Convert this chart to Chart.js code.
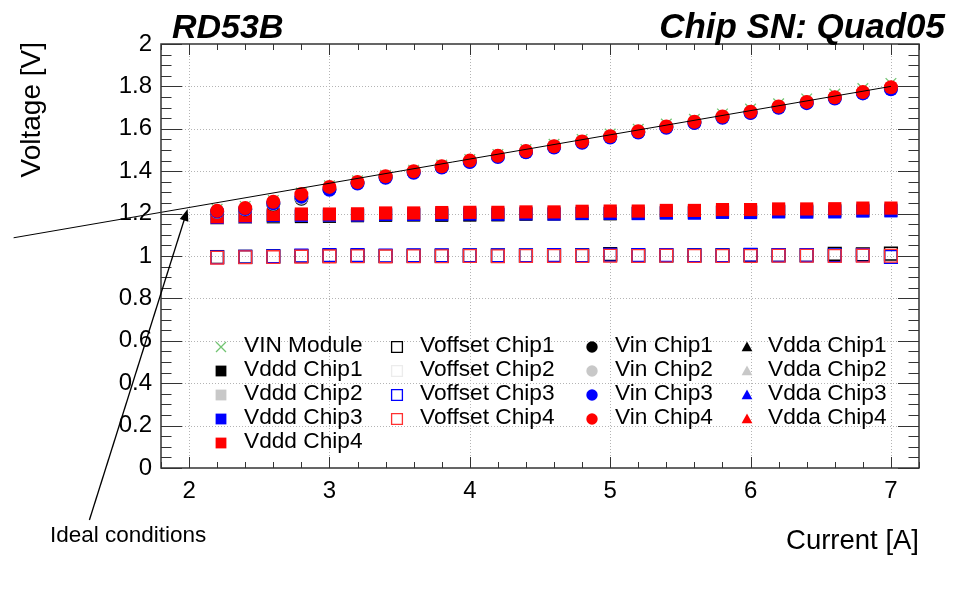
<!DOCTYPE html>
<html>
<head>
<meta charset="utf-8">
<script src="https://cdn.jsdelivr.net/npm/chart.js@4.4.1/dist/chart.umd.min.js"></script>
<style>
html, body { margin: 0; padding: 0; background: #fff; }
#wrap { width: 959px; height: 591px; }
</style>
</head>
<body>
<div id="wrap"><canvas id="ivChart" width="959" height="591"></canvas></div>
<script>
// current steps [A]
var current = [2.2, 2.4, 2.6, 2.8, 3.0, 3.2, 3.4, 3.6, 3.8, 4.0, 4.2, 4.4, 4.6, 4.8, 5.0, 5.2, 5.4, 5.6, 5.8, 6.0, 6.2, 6.4, 6.6, 6.8, 7.0];

var vinModule = [1.220, 1.234, 1.262, 1.297, 1.331, 1.355, 1.381, 1.405, 1.429, 1.455, 1.479, 1.502, 1.527, 1.550, 1.575, 1.598, 1.622, 1.645, 1.670, 1.693, 1.718, 1.741, 1.764, 1.790, 1.814];

var vinChip1 = [1.208, 1.219, 1.244, 1.270, 1.316, 1.345, 1.372, 1.396, 1.420, 1.446, 1.470, 1.492, 1.515, 1.537, 1.562, 1.585, 1.608, 1.630, 1.655, 1.677, 1.702, 1.724, 1.746, 1.770, 1.791];
var vinChip2 = [1.209, 1.220, 1.246, 1.275, 1.317, 1.346, 1.373, 1.397, 1.421, 1.447, 1.471, 1.493, 1.516, 1.538, 1.563, 1.586, 1.609, 1.631, 1.656, 1.678, 1.703, 1.725, 1.747, 1.771, 1.792];
var vinChip3 = [1.210, 1.222, 1.249, 1.280, 1.312, 1.342, 1.369, 1.393, 1.417, 1.443, 1.467, 1.489, 1.512, 1.534, 1.559, 1.582, 1.605, 1.627, 1.652, 1.674, 1.699, 1.721, 1.743, 1.767, 1.786];
var vinChip4 = [1.213, 1.226, 1.256, 1.292, 1.326, 1.349, 1.376, 1.400, 1.423, 1.450, 1.473, 1.495, 1.518, 1.540, 1.565, 1.588, 1.611, 1.633, 1.658, 1.680, 1.705, 1.727, 1.749, 1.773, 1.796];

var vdddChip1 = [1.180, 1.182, 1.185, 1.186, 1.187, 1.190, 1.192, 1.193, 1.192, 1.193, 1.194, 1.197, 1.198, 1.200, 1.199, 1.202, 1.204, 1.206, 1.208, 1.209, 1.211, 1.212, 1.214, 1.216, 1.217];
var vdddChip2 = [1.178, 1.183, 1.190, 1.192, 1.194, 1.195, 1.198, 1.199, 1.200, 1.201, 1.201, 1.203, 1.203, 1.206, 1.207, 1.207, 1.210, 1.210, 1.213, 1.213, 1.216, 1.216, 1.217, 1.220, 1.220];
var vdddChip3 = [1.182, 1.186, 1.191, 1.192, 1.193, 1.193, 1.196, 1.196, 1.197, 1.198, 1.197, 1.199, 1.198, 1.201, 1.201, 1.200, 1.203, 1.202, 1.206, 1.205, 1.208, 1.207, 1.208, 1.212, 1.213];
var vdddChip4 = [1.185, 1.190, 1.196, 1.198, 1.198, 1.199, 1.203, 1.203, 1.205, 1.206, 1.206, 1.208, 1.208, 1.211, 1.212, 1.212, 1.215, 1.215, 1.219, 1.219, 1.222, 1.222, 1.223, 1.226, 1.226];

var vddaChip1 = [1.184, 1.189, 1.194, 1.197, 1.197, 1.198, 1.201, 1.202, 1.204, 1.205, 1.205, 1.207, 1.207, 1.210, 1.211, 1.211, 1.214, 1.214, 1.218, 1.218, 1.221, 1.221, 1.222, 1.225, 1.225];
var vddaChip2 = [1.185, 1.189, 1.195, 1.197, 1.198, 1.198, 1.202, 1.202, 1.204, 1.205, 1.206, 1.207, 1.208, 1.210, 1.211, 1.212, 1.214, 1.215, 1.218, 1.219, 1.221, 1.222, 1.222, 1.225, 1.226];
var vddaChip3 = [1.184, 1.190, 1.195, 1.198, 1.197, 1.199, 1.202, 1.203, 1.204, 1.206, 1.205, 1.208, 1.207, 1.211, 1.211, 1.212, 1.214, 1.215, 1.218, 1.219, 1.221, 1.222, 1.222, 1.226, 1.225];
var vddaChip4 = [1.185, 1.190, 1.196, 1.197, 1.198, 1.199, 1.202, 1.203, 1.205, 1.205, 1.206, 1.208, 1.208, 1.210, 1.212, 1.212, 1.215, 1.215, 1.219, 1.219, 1.222, 1.222, 1.223, 1.226, 1.226];

var voffsetChip1 = [0.995, 0.996, 0.998, 1.000, 1.001, 1.001, 1.000, 1.001, 1.001, 1.002, 1.002, 1.002, 1.003, 1.003, 1.009, 1.002, 1.003, 1.003, 1.003, 1.004, 1.004, 1.004, 1.010, 1.008, 1.011];
var voffsetChip2 = [0.996, 0.997, 0.999, 1.000, 1.001, 1.001, 1.001, 1.001, 1.002, 1.002, 1.002, 1.002, 1.002, 1.003, 1.003, 1.003, 1.003, 1.003, 1.003, 1.004, 1.004, 1.004, 1.004, 1.004, 1.005];
var voffsetChip3 = [0.994, 0.996, 0.999, 1.002, 1.004, 1.004, 1.002, 1.003, 1.003, 1.003, 1.003, 1.003, 1.004, 1.003, 1.006, 1.004, 1.004, 1.003, 1.003, 1.006, 1.004, 1.004, 1.003, 1.004, 0.996];
var voffsetChip4 = [0.992, 0.994, 0.995, 0.997, 0.998, 0.999, 0.998, 0.999, 0.999, 1.000, 0.999, 1.000, 1.000, 1.000, 1.001, 1.000, 1.001, 1.000, 1.000, 1.000, 1.001, 1.001, 1.000, 1.002, 1.001];

// ideal conditions line (end points)
var idealCurrent = [0.75, 7.0];
var idealVoltage = [1.086, 1.800];

// arrow from label to the ideal line, in axis units
var arrowCurrent = [1.29, 1.99];
var arrowVoltage = [-0.245, 1.222];

var xTicks = [2, 3, 4, 5, 6, 7];
var yTicks = [0, 0.2, 0.4, 0.6, 0.8, 1, 1.2, 1.4, 1.6, 1.8, 2];

var FONT = "'Liberation Sans', Arial, sans-serif";
var black = "#000000", grey = "#c8c8c8", blue = "#0000ff", red = "#ff0000", green = "#72c472";

function pts(ys) {
    return current.map(function (x, i) { return { x: x, y: ys[i] }; });
}

function series(label, ys, style, color, order) {
    var ds = {
        label: label,
        data: pts(ys),
        order: order,
        pointStyle: style,
        pointBorderColor: color,
        pointBackgroundColor: color,
        borderColor: color,
        backgroundColor: color
    };
    if (style === "rect") { ds.pointRadius = 9.3; ds.pointBorderWidth = 0; }
    if (style === "rectOpen") {
        ds.pointStyle = "rect"; ds.pointRadius = 9; ds.pointBorderWidth = 1.4;
        ds.pointBackgroundColor = "rgba(0,0,0,0)";
    }
    if (style === "circle") { ds.pointRadius = 7; ds.pointBorderWidth = 0; }
    if (style === "triangle") { ds.pointRadius = 5; ds.pointBorderWidth = 0; }
    if (style === "crossRot") { ds.pointRadius = 7.5; ds.pointBorderWidth = 1.3; }
    return ds;
}

var datasets = [
    {
        label: "ideal",
        type: "line",
        data: idealCurrent.map(function (x, i) { return { x: x, y: idealVoltage[i] }; }),
        showLine: true,
        borderColor: "#000",
        borderWidth: 1,
        pointRadius: 0,
        clip: false,
        order: 0
    },
    series("VIN Module", vinModule, "crossRot", green, 5),
    series("Vddd Chip1", vdddChip1, "rect", black, 9),
    series("Vddd Chip2", vdddChip2, "rect", grey, 8),
    series("Vddd Chip3", vdddChip3, "rect", blue, 7),
    series("Vddd Chip4", vdddChip4, "rect", red, 6),
    series("Voffset Chip1", voffsetChip1, "rectOpen", black, 16),
    series("Voffset Chip2", voffsetChip2, "rectOpen", "#ececec", 17),
    series("Voffset Chip3", voffsetChip3, "rectOpen", blue, 15),
    series("Voffset Chip4", voffsetChip4, "rectOpen", "#ff3030", 14),
    series("Vin Chip1", vinChip1, "circle", black, 4),
    series("Vin Chip2", vinChip2, "circle", grey, 3),
    series("Vin Chip3", vinChip3, "circle", blue, 2),
    series("Vin Chip4", vinChip4, "circle", red, 1),
    series("Vdda Chip1", vddaChip1, "triangle", black, 13),
    series("Vdda Chip2", vddaChip2, "triangle", grey, 12),
    series("Vdda Chip3", vddaChip3, "triangle", blue, 11),
    series("Vdda Chip4", vddaChip4, "triangle", red, 10)
];

// legend columns as in the ROOT TLegend
var legendColumns = [
    ["VIN Module", "Vddd Chip1", "Vddd Chip2", "Vddd Chip3", "Vddd Chip4"],
    ["Voffset Chip1", "Voffset Chip2", "Voffset Chip3", "Voffset Chip4"],
    ["Vin Chip1", "Vin Chip2", "Vin Chip3", "Vin Chip4"],
    ["Vdda Chip1", "Vdda Chip2", "Vdda Chip3", "Vdda Chip4"]
];

function drawMarker(ctx, style, open, color, x, y, r) {
    ctx.save();
    ctx.fillStyle = color;
    ctx.strokeStyle = color;
    ctx.lineWidth = 1.3;
    ctx.beginPath();
    if (style === "rect") {
        ctx.rect(x - r, y - r, 2 * r, 2 * r);
        if (open) ctx.stroke(); else ctx.fill();
    } else if (style === "circle") {
        ctx.arc(x, y, r, 0, Math.PI * 2);
        ctx.fill();
    } else if (style === "triangle") {
        ctx.moveTo(x, y - r);
        ctx.lineTo(x + r, y + r * 0.8);
        ctx.lineTo(x - r, y + r * 0.8);
        ctx.closePath();
        ctx.fill();
    } else if (style === "crossRot") {
        ctx.moveTo(x - r, y - r); ctx.lineTo(x + r, y + r);
        ctx.moveTo(x + r, y - r); ctx.lineTo(x - r, y + r);
        ctx.stroke();
    }
    ctx.restore();
}

var rootFrame = {
    id: "rootFrame",
    beforeDatasetsDraw: function (chart) {
        var ctx = chart.ctx, a = chart.chartArea;
        var xs = chart.scales.x, ys = chart.scales.y;
        ctx.save();
        // dotted grid at major ticks
        ctx.strokeStyle = "#b4b4b4";
        ctx.lineWidth = 1;
        ctx.setLineDash([1, 2]);
        xTicks.forEach(function (v) {
            var px = Math.round(xs.getPixelForValue(v)) + 0.5;
            ctx.beginPath(); ctx.moveTo(px, a.top); ctx.lineTo(px, a.bottom); ctx.stroke();
        });
        yTicks.forEach(function (v) {
            if (v <= ys.min || v >= ys.max) return;
            var py = Math.round(ys.getPixelForValue(v)) + 0.5;
            ctx.beginPath(); ctx.moveTo(a.left, py); ctx.lineTo(a.right, py); ctx.stroke();
        });
        ctx.restore();
    },
    afterDatasetsDraw: function (chart) {
        var ctx = chart.ctx, a = chart.chartArea;
        var xs = chart.scales.x, ys = chart.scales.y;
        ctx.save();
        ctx.strokeStyle = "#333";
        ctx.lineWidth = 1;
        var i, v, px, py, len;
        // x ticks every 0.2, major at integers
        for (i = 0; ; i++) {
            v = Math.round((xs.min + i * 0.2) * 10) / 10;
            if (v > xs.max + 1e-6) break;
            len = Math.abs(v - Math.round(v)) < 1e-6 ? 11 : 6;
            px = Math.round(xs.getPixelForValue(v)) + 0.5;
            ctx.beginPath();
            ctx.moveTo(px, a.bottom); ctx.lineTo(px, a.bottom - len);
            ctx.moveTo(px, a.top); ctx.lineTo(px, a.top + len);
            ctx.stroke();
        }
        // y ticks every 0.05, major every 0.2
        for (i = 0; ; i++) {
            v = Math.round((ys.min + i * 0.05) * 100) / 100;
            if (v > ys.max + 1e-6) break;
            len = Math.abs(v * 5 - Math.round(v * 5)) < 1e-6 ? 21 : 10.5;
            py = Math.round(ys.getPixelForValue(v)) + 0.5;
            ctx.beginPath();
            ctx.moveTo(a.left, py); ctx.lineTo(a.left + len, py);
            ctx.moveTo(a.right, py); ctx.lineTo(a.right - len, py);
            ctx.stroke();
        }
        // frame
        ctx.lineWidth = 1.5;
        ctx.strokeRect(a.left, a.top, a.right - a.left, a.bottom - a.top);
        ctx.restore();
    },
    afterDraw: function (chart) {
        var ctx = chart.ctx, a = chart.chartArea;
        var xs = chart.scales.x, ys = chart.scales.y;
        ctx.save();
        ctx.fillStyle = "#000";
        ctx.textBaseline = "alphabetic";

        // titles
        ctx.font = "italic bold 34px " + FONT;
        ctx.textAlign = "left";
        ctx.fillText("RD53B", 172, 38);
        ctx.font = "italic bold 35px " + FONT;
        ctx.textAlign = "right";
        ctx.fillText("Chip SN: Quad05", 945, 38);

        // axis titles
        ctx.font = "27.5px " + FONT;
        ctx.textAlign = "right";
        ctx.fillText("Current [A]", a.right, 549);
        ctx.font = "28px " + FONT;
        ctx.save();
        ctx.translate(40, a.top - 2);
        ctx.rotate(-Math.PI / 2);
        ctx.textAlign = "right";
        ctx.fillText("Voltage [V]", 0, 0);
        ctx.restore();

        // ideal conditions arrow
        var x0 = xs.getPixelForValue(arrowCurrent[0]), y0 = ys.getPixelForValue(arrowVoltage[0]);
        var x1 = xs.getPixelForValue(arrowCurrent[1]), y1 = ys.getPixelForValue(arrowVoltage[1]);
        var ang = Math.atan2(y1 - y0, x1 - x0);
        ctx.strokeStyle = "#000";
        ctx.lineWidth = 1.3;
        ctx.beginPath(); ctx.moveTo(x0, y0); ctx.lineTo(x1 - 8 * Math.cos(ang), y1 - 8 * Math.sin(ang)); ctx.stroke();
        ctx.beginPath();
        ctx.moveTo(x1, y1);
        ctx.lineTo(x1 - 12 * Math.cos(ang) + 4.5 * Math.sin(ang), y1 - 12 * Math.sin(ang) - 4.5 * Math.cos(ang));
        ctx.lineTo(x1 - 12 * Math.cos(ang) - 4.5 * Math.sin(ang), y1 - 12 * Math.sin(ang) + 4.5 * Math.cos(ang));
        ctx.closePath();
        ctx.fill();
        ctx.font = "22.5px " + FONT;
        ctx.textAlign = "left";
        ctx.fillText("Ideal conditions", 50, 542);

        // legend
        var colMarker = [221, 397, 592, 747], colText = [244, 420, 615, 768];
        var rowY = [346, 370, 394, 418, 442];
        ctx.font = "22.7px " + FONT;
        ctx.textBaseline = "middle";
        legendColumns.forEach(function (col, c) {
            col.forEach(function (label, r) {
                var ds = chart.data.datasets.find(function (d) { return d.label === label; });
                var open = ds.pointBackgroundColor === "rgba(0,0,0,0)";
                var style = ds.pointStyle;
                var size = style === "circle" ? 5.7 : (style === "crossRot" ? 5 : 5.4);
                drawMarker(ctx, style, open, ds.pointBorderColor, colMarker[c], rowY[r] + 1, size);
                ctx.fillStyle = "#000";
                ctx.fillText(label, colText[c], rowY[r]);
            });
        });
        ctx.restore();
    }
};

var ctx = document.getElementById("ivChart").getContext("2d");

var myChart = new Chart(ctx, {
    type: "scatter",
    data: { datasets: datasets },
    options: {
        responsive: false,
        animation: false,
        events: [],
        layout: { padding: { left: 41, right: 40, top: 44, bottom: 83 } },
        plugins: { legend: { display: false }, tooltip: { enabled: false } },
        scales: {
            x: {
                type: "linear",
                min: 1.8,
                max: 7.2,
                afterFit: function (s) { s.height = 40; },
                afterBuildTicks: function (s) { s.ticks = xTicks.map(function (v) { return { value: v }; }); },
                grid: { display: false, drawTicks: false },
                border: { display: false },
                ticks: {
                    padding: 9,
                    color: "#000",
                    font: { family: FONT, size: 24 },
                    maxRotation: 0,
                    callback: function (v) { return String(v); }
                }
            },
            y: {
                type: "linear",
                min: 0,
                max: 2,
                afterFit: function (s) { s.width = 120; },
                afterBuildTicks: function (s) { s.ticks = yTicks.map(function (v) { return { value: v }; }); },
                grid: { display: false, drawTicks: false },
                border: { display: false },
                ticks: {
                    padding: 9,
                    color: "#000",
                    font: { family: FONT, size: 24 },
                    callback: function (v) { return String(Math.round(v * 10) / 10); }
                }
            }
        }
    },
    plugins: [rootFrame]
});
</script>
</body>
</html>
